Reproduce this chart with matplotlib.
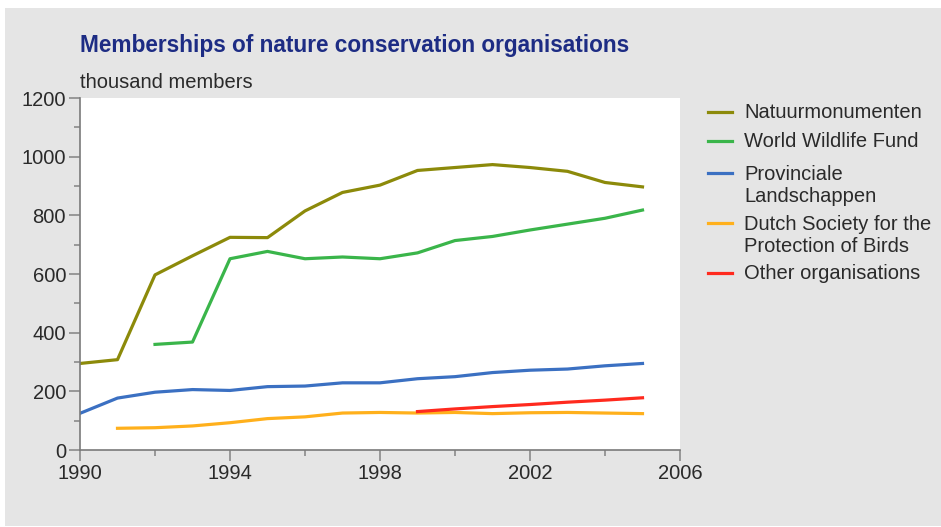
import matplotlib

matplotlib.use("Agg")
import matplotlib.pyplot as plt
from matplotlib.lines import Line2D
from matplotlib.patches import Rectangle

# --- data (thousand members) ---
YEARS = list(range(1990, 2006))
natuurmonumenten = [295, 308, 597, 662, 725, 724, 815, 878, 903, 953,
                    963, 973, 963, 950, 912, 897]
wwf_years = list(range(1992, 2006))
wwf = [360, 368, 652, 677, 652, 658, 652, 672, 714, 728, 750, 770, 790, 818]
provinciale = [125, 177, 197, 206, 203, 216, 218, 229, 229, 243,
               250, 264, 272, 276, 287, 295]
birds_years = list(range(1991, 2006))
birds = [74, 76, 82, 93, 107, 113, 126, 128, 126, 128, 124, 127, 128, 126, 124]
other_years = list(range(1999, 2006))
other = [131, 140, 148, 155, 163, 170, 178]

LABELS = ["Natuurmonumenten", "World Wildlife Fund", "Provinciale\nLandschappen",
          "Dutch Society for the\nProtection of Birds", "Other organisations"]
XTICKS = list(range(1990, 2007, 4))
XMINOR = list(range(1990, 2007, 2))
YTICKS = list(range(0, 1201, 200))
YMINOR = list(range(0, 1201, 100))

OLIVE = "#8c8a0a"
GREEN = "#3ab54a"
BLUE = "#3b70c2"
ORANGE = "#ffb01c"
RED = "#ff2a1e"
COLORS = [OLIVE, GREEN, BLUE, ORANGE, RED]

BG = "#e5e5e5"
TICKC = "#8a8a8a"
TEXTC = "#2a2a2a"
TITLEC = "#1d2c84"
FS = 14.5

plt.rcParams.update({
    "font.family": ["Liberation Sans", "DejaVu Sans"],
    "font.size": FS,
})

W, H = 941, 527
fig = plt.figure(figsize=(W / 100, H / 100), dpi=100, facecolor="white")
fig.add_artist(Rectangle((5 / W, 1 / H), 1 - 5 / W, (H - 9) / H,
                         transform=fig.transFigure, facecolor=BG,
                         edgecolor="none", zorder=-10))

ax = fig.add_axes([80 / W, 1 - 450 / H, 600 / W, 352 / H])
ax.set_facecolor("white")

LW = 2.3
ax.plot(YEARS, natuurmonumenten, color=OLIVE, lw=LW)
ax.plot(wwf_years, wwf, color=GREEN, lw=LW)
ax.plot(YEARS, provinciale, color=BLUE, lw=LW)
ax.plot(birds_years, birds, color=ORANGE, lw=LW)
ax.plot(other_years, other, color=RED, lw=LW)

ax.set_xlim(1990, 2006)
ax.set_ylim(0, 1200)
ax.set_xticks(XTICKS)
ax.set_xticks(XMINOR, minor=True)
ax.set_yticks(YTICKS)
ax.set_yticks(YMINOR, minor=True)
for s in ("top", "right"):
    ax.spines[s].set_visible(False)
for s in ("left", "bottom"):
    ax.spines[s].set_color("#7a7a7a")
    ax.spines[s].set_linewidth(1.2)
ax.tick_params(which="major", length=8, width=1.2, color=TICKC,
               labelcolor=TEXTC, labelsize=FS, pad=2)
ax.tick_params(which="minor", length=4, width=1.2, color=TICKC)

fig.text(80 / W, 1 - 45 / H, "Memberships of nature conservation organisations",
         color=TITLEC, fontsize=16.3, fontweight="bold", va="center", ha="left")
fig.text(80 / W, 1 - 82 / H, "thousand members", color=TEXTC, fontsize=FS,
         va="center", ha="left")

# legend drawn by hand so handles sit on the first line of wrapped labels
rows = [112, 141, 173, 223, 273]
STEP = 23.5  # px between wrapped lines
for y, lab, c in zip(rows, LABELS, COLORS):
    yf = 1 - y / H
    fig.add_artist(Line2D([708 / W, 732 / W], [yf, yf], color=c, lw=LW,
                          transform=fig.transFigure))
    # baseline alignment uses the last line, so shift down per extra line
    ybase = y + 6 + STEP * lab.count("\n")
    fig.text(744 / W, 1 - ybase / H, lab, color=TEXTC, fontsize=FS,
             va="baseline", ha="left", linespacing=1.22)

fig.savefig("out.png", dpi=100, facecolor="white")
